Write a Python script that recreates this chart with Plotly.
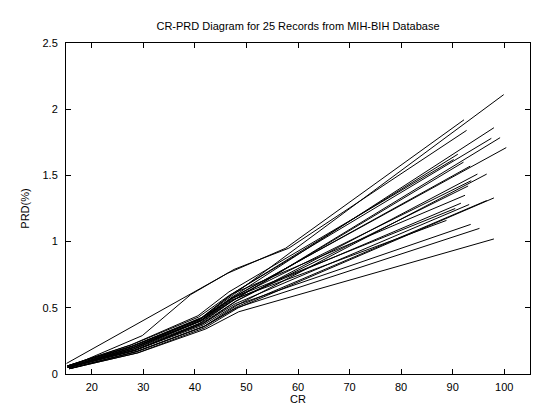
import plotly.graph_objects as go

# CR values for each of the 25 records (one list per record)
cr_values = [
    [15.3, 28.0, 41.2, 47.5, 99.9],
    [15.1, 39.4, 46.3, 57.6, 92.2],
    [15.4, 29.8, 39.2, 47.6, 58.2, 92.7],
    [15.5, 28.2, 41.0, 47.2, 98.0],
    [15.3, 27.8, 41.5, 47.8, 97.5],
    [15.6, 28.5, 40.8, 46.8, 99.2],
    [15.4, 28.1, 41.3, 47.4, 100.4],
    [15.2, 27.6, 40.6, 46.6, 90.2],
    [15.3, 28.0, 41.1, 47.0, 91.0],
    [15.5, 28.4, 41.4, 47.6, 92.1],
    [15.2, 27.9, 40.9, 47.1, 93.4],
    [15.4, 28.3, 41.6, 48.0, 94.8],
    [15.6, 28.7, 41.8, 48.2, 96.6],
    [15.3, 28.0, 41.0, 47.3, 93.6],
    [15.5, 28.6, 41.7, 47.9, 93.0],
    [15.2, 27.7, 40.7, 46.9, 92.4],
    [15.7, 28.9, 42.0, 48.4, 98.0],
    [15.3, 28.1, 41.2, 47.5, 91.6],
    [15.4, 28.4, 41.5, 47.8, 93.2],
    [15.6, 28.8, 41.9, 48.3, 96.6],
    [15.2, 27.8, 40.8, 47.0, 90.5],
    [15.3, 28.2, 41.1, 47.2, 88.8],
    [15.5, 28.5, 41.6, 47.9, 93.5],
    [15.6, 28.7, 41.8, 48.1, 95.2],
    [15.7, 29.0, 42.1, 48.5, 98.0],
]

# PRD(%) values for each record
prd_values = [
    [0.05, 0.20, 0.42, 0.60, 2.11],
    [0.08, 0.61, 0.76, 0.95, 1.92],
    [0.05, 0.29, 0.60, 0.79, 0.95, 1.84],
    [0.05, 0.19, 0.40, 0.58, 1.86],
    [0.06, 0.21, 0.43, 0.62, 1.78],
    [0.05, 0.18, 0.38, 0.54, 1.785],
    [0.05, 0.20, 0.41, 0.58, 1.71],
    [0.06, 0.22, 0.44, 0.62, 1.62],
    [0.05, 0.21, 0.42, 0.60, 1.66],
    [0.05, 0.19, 0.39, 0.56, 1.60],
    [0.06, 0.21, 0.41, 0.57, 1.57],
    [0.05, 0.18, 0.38, 0.55, 1.51],
    [0.04, 0.17, 0.36, 0.52, 1.51],
    [0.05, 0.20, 0.40, 0.57, 1.46],
    [0.05, 0.18, 0.39, 0.55, 1.42],
    [0.06, 0.22, 0.43, 0.60, 1.35],
    [0.04, 0.16, 0.35, 0.50, 1.33],
    [0.05, 0.19, 0.40, 0.56, 1.29],
    [0.05, 0.18, 0.38, 0.53, 1.28],
    [0.04, 0.17, 0.36, 0.51, 1.31],
    [0.06, 0.21, 0.41, 0.57, 1.25],
    [0.05, 0.20, 0.40, 0.56, 1.16],
    [0.05, 0.18, 0.37, 0.52, 1.13],
    [0.04, 0.17, 0.36, 0.50, 1.10],
    [0.04, 0.16, 0.34, 0.47, 1.02],
]

x_ticks = [20, 30, 40, 50, 60, 70, 80, 90, 100]
y_ticks = [0, 0.5, 1, 1.5, 2, 2.5]
y_tick_labels = ["0", "0.5", "1", "1.5", "2", "2.5"]

fig = go.Figure()
for cr, prd in zip(cr_values, prd_values):
    fig.add_trace(go.Scatter(x=cr, y=prd, mode="lines",
                             line=dict(color="black", width=1),
                             showlegend=False, hoverinfo="skip"))

font = dict(family="Arial, Liberation Sans, sans-serif", size=11, color="black")
axis_common = dict(showline=True, linecolor="black", linewidth=1, mirror="ticks",
                   ticks="inside", ticklen=5, tickcolor="black", tickwidth=1,
                   showgrid=False, zeroline=False, tickfont=font)

fig.update_layout(
    width=552, height=407,
    margin=dict(l=58, r=30, t=35, b=34),
    paper_bgcolor="white", plot_bgcolor="white",
    font=font,
    title=dict(text="CR-PRD Diagram for 25 Records from MIH-BIH Database",
               x=0.5, xref="paper", y=1 - 18 / 407, yref="container",
               yanchor="middle", font=font),
    xaxis=dict(range=[15, 105], tickvals=x_ticks, ticklabelstandoff=3,
               title=dict(text="CR", font=font, standoff=2), **axis_common),
    yaxis=dict(range=[0, 2.5], tickvals=y_ticks, ticktext=y_tick_labels,
               ticklabelstandoff=5,
               title=dict(text="PRD(%)", font=font, standoff=10), **axis_common),
)

fig.write_html("out.html")
